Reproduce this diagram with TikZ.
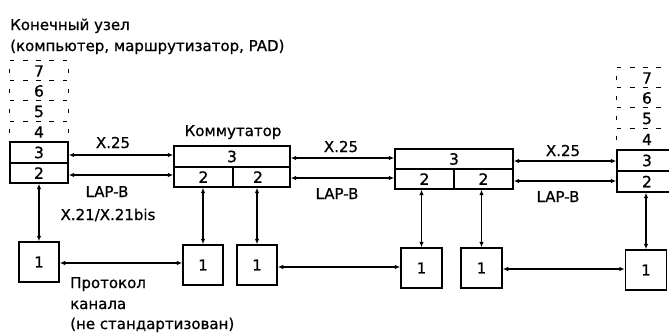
\documentclass[tikz,border=0pt]{standalone}
\usepackage{fontspec}
\setmainfont{DejaVu Sans}
\newfontfamily\heavysans{DejaVu Sans}[FakeBold=0.8]
\usetikzlibrary{arrows.meta,calc}
\begin{document}
\begin{tikzpicture}[x=1pt,y=-1pt,
  txt/.style={font=\heavysans\fontsize{15}{18}\selectfont, inner sep=0pt},
  cell/.style={draw, line width=1.4pt, inner sep=0pt, font=\heavysans\fontsize{15.5}{18}\selectfont},
  dcell/.style={inner sep=0pt, font=\heavysans\fontsize{15.5}{18}\selectfont},
  box/.style={draw, line width=1.5pt, minimum width=40pt, minimum height=40pt, inner sep=0pt, font=\heavysans\fontsize{15}{18}\selectfont},
  hdash/.style={line width=1.3pt, dash pattern=on 4.5pt off 8.7pt},
  vdash/.style={line width=1.3pt, dash pattern=on 4pt off 16pt, dash phase=12pt},
  arr/.style={{Latex[length=5.5pt,width=4.5pt]}-{Latex[length=5.5pt,width=4.5pt]}, line width=1.4pt}
]
\useasboundingbox (0,0) rectangle (669,332);
\clip (0,0) rectangle (669,332);

% title
\node[txt, anchor=base west] (t1) at (10,30) {Конечный узел};
\node[txt, anchor=base west] (t2) at (10,51) {(компьютер, маршрутизатор, PAD)};

% left end node
\node[dcell, minimum width=58pt, minimum height=20pt] (e1l7) at (39,71) {7};
\node[dcell, minimum width=58pt, minimum height=20pt] (e1l6) at (39,91) {6};
\node[dcell, minimum width=58pt, minimum height=21pt] (e1l5) at (39,111.5) {5};
\node[dcell, minimum width=58pt, minimum height=20pt] (e1l4) at (39,132) {4};
\node[cell, minimum width=58pt, minimum height=21pt] (e1l3) at (39,152.5) {3};
\node[cell, minimum width=58pt, minimum height=20pt] (e1l2) at (39,173) {2};
\foreach \c in {e1l7,e1l6,e1l5,e1l4}
  \draw[hdash] (\c.north west) -- (\c.north east);
\draw[vdash] (e1l7.north west) -- (e1l4.south west);
\draw[vdash] (e1l7.north east) -- (e1l4.south east);

% right end node
\node[dcell, minimum width=60pt, minimum height=20pt] (e2l7) at (647,78) {7};
\node[dcell, minimum width=60pt, minimum height=20pt] (e2l6) at (647,98) {6};
\node[dcell, minimum width=60pt, minimum height=21pt] (e2l5) at (647,118.5) {5};
\node[dcell, minimum width=60pt, minimum height=21pt] (e2l4) at (647,139.5) {4};
\node[cell, minimum width=60pt, minimum height=21pt] (e2l3) at (647,160.5) {3};
\node[cell, minimum width=60pt, minimum height=21pt] (e2l2) at (647,181.5) {2};
\foreach \c in {e2l7,e2l6,e2l5,e2l4}
  \draw[hdash] (\c.north west) -- (\c.north east);
\draw[vdash] (e2l7.north west) -- (e2l4.south west);
\draw[vdash] (e2l7.north east) -- (e2l4.south east);

% switch 1
\node[txt, anchor=base] (k1) at (233,136) {Коммутатор};
\node[cell, minimum width=116pt, minimum height=21pt] (s1l3) at (232,156.5) {3};
\node[cell, minimum width=59pt, minimum height=20pt] (s1a) at (203.5,177) {2};
\node[cell, minimum width=57pt, minimum height=20pt] (s1b) at (261.5,177) {};
\node[dcell] (s1bt) at (258,177) {2};

% switch 2
\node[cell, minimum width=118pt, minimum height=20pt] (s2l3) at (454,159) {3};
\node[cell, minimum width=59pt, minimum height=20pt] (s2a) at (424.5,179) {2};
\node[cell, minimum width=59pt, minimum height=20pt] (s2b) at (483.5,179) {2};

% physical boxes
\node[box] (b1) at (39,262) {1};
\node[box] (b2) at (203,265) {1};
\node[box] (b3) at (257,265) {1};
\node[box, minimum width=41pt] (b4) at (421.5,268) {1};
\node[box, minimum width=41pt] (b5) at (481.5,268) {1};
\node[box, minimum width=41pt] (b6) at (646,270) {1};

% horizontal arrows
\draw[arr] (e1l3.east |- 0,155) -- (s1l3.west |- 0,155);
\draw[arr] (e1l2.east |- 0,175) -- (s1a.west |- 0,175);
\draw[arr] (s1l3.east |- 0,158) -- (s2l3.west |- 0,158);
\draw[arr] (s1b.east |- 0,178) -- (s2a.west |- 0,178);
\draw[arr] (s2l3.east |- 0,161) -- (e2l3.west |- 0,161);
\draw[arr] (s2b.east |- 0,181) -- (e2l2.west |- 0,181);

\draw[arr] (b1.east |- 0,263) -- (b2.west |- 0,263);
\draw[arr] (b3.east |- 0,267) -- (b4.west |- 0,267);
\draw[arr] (b5.east |- 0,269) -- (b6.west |- 0,269);

% vertical arrows
\draw[arr] (b1.north |- e1l2.south) -- (b1.north);
\draw[arr] (b2.north |- s1a.south) -- (b2.north);
\draw[arr] (b3.north |- s1b.south) -- (b3.north);
\draw[arr] (b4.north |- s2a.south) -- (b4.north);
\draw[arr] (b5.north |- s2b.south) -- (b5.north);
\draw[arr] (b6.north |- e2l2.south) -- (b6.north);

% labels
\node[txt, anchor=base] (x1) at (113,148) {X.25};
\node[txt, anchor=base] (l1) at (107,197) {LAP-B};
\node[txt, anchor=base] (x21) at (108,220) {X.21/X.21bis};
\node[txt, anchor=base] (x2) at (341,152) {X.25};
\node[txt, anchor=base] (l2) at (337,199) {LAP-B};
\node[txt, anchor=base] (x3) at (563,156) {X.25};
\node[txt, anchor=base] (l3) at (558,202) {LAP-B};

\node[txt, anchor=base west] (p1) at (70,288) {Протокол};
\node[txt, anchor=base west] (p2) at (70,309) {канала};
\node[txt, anchor=base west] (p3) at (70,329) {(не стандартизован)};
\end{tikzpicture}
\end{document}
